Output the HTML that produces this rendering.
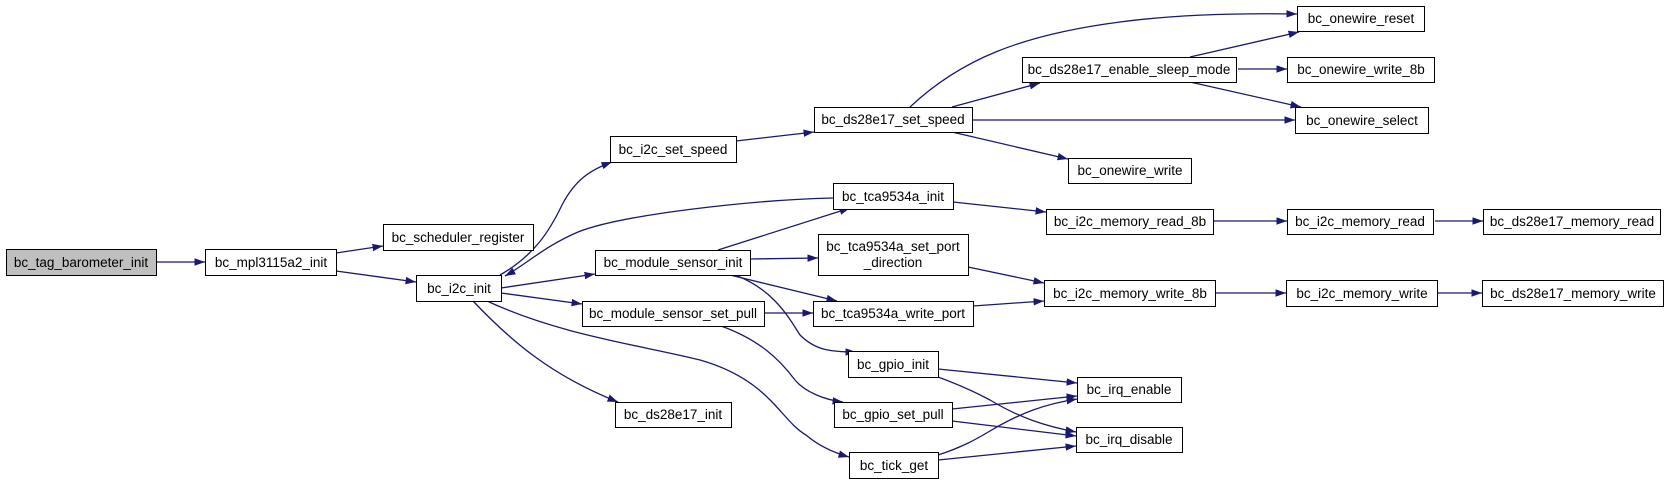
<!DOCTYPE html>
<html><head><meta charset="utf-8"><style>
html,body{margin:0;padding:0;background:#fff;width:1669px;height:484px;overflow:hidden}
svg text{font-family:"Liberation Sans",Arial,sans-serif;font-size:13.5px;fill:#000}
</style></head><body>
<svg width="1669" height="484" viewBox="0 0 1669 484" xmlns="http://www.w3.org/2000/svg">
<defs><marker id="a" markerUnits="userSpaceOnUse" markerWidth="11" markerHeight="8" refX="10.5" refY="3.75" orient="auto"><path d="M0,0 L10.5,3.75 L0,7.5 z" fill="#191970"/></marker></defs>
<g fill="none" stroke="#191970" stroke-width="1.3" marker-end="url(#a)">
<path d="M156,262 L205,262"/>
<path d="M336,253 L383,246"/>
<path d="M336,271 L416,282"/>
<path d="M500,275 C535,255 550,230 562,205 C575,180 590,170 612,162"/>
<path d="M833,198 C750,200 620,215 578,232 C545,246 525,265 505,276"/>
<path d="M501,288 L595,274"/>
<path d="M501,293 L582,304"/>
<path d="M487,301 C560,335 640,345 700,360 C770,380 780,420 806,435 C820,447 835,453 849,457"/>
<path d="M473,301 C510,340 550,375 618,402"/>
<path d="M736,141 L814,132"/>
<path d="M910,107 C960,60 1020,35 1120,22 C1180,14 1240,13 1297,14"/>
<path d="M952,107 L1040,83"/>
<path d="M972,120 L1295,120"/>
<path d="M952,132 L1068,159"/>
<path d="M1190,57 L1299,32"/>
<path d="M1238,69 L1287,69"/>
<path d="M1190,82 L1301,107"/>
<path d="M953,202 L1046,212"/>
<path d="M1213,221 L1287,221"/>
<path d="M1435,221 L1483,221"/>
<path d="M718,250 L850,208"/>
<path d="M750,259 L818,258"/>
<path d="M730,275 L837,301"/>
<path d="M735,275 C775,290 790,320 800,335 C815,350 830,352 856,352"/>
<path d="M968,267 L1044,283"/>
<path d="M764,313 L813,313"/>
<path d="M721,326 C760,340 780,360 795,380 C805,392 825,400 843,402"/>
<path d="M973,306 L1044,301"/>
<path d="M1215,293 L1286,293"/>
<path d="M1437,293 L1482,293"/>
<path d="M938,369 L1077,383"/>
<path d="M938,377 C960,385 975,392 990,400 C1020,418 1045,426 1076,432"/>
<path d="M952,409 L1077,396"/>
<path d="M952,421 L1076,436"/>
<path d="M938,455 C960,448 975,440 990,431 C1020,413 1045,404 1077,399"/>
<path d="M938,460 L1076,446"/>
</g>
<g stroke="#000" stroke-width="1" fill="#fff">
<rect x="6.5" y="249.5" width="150" height="26" fill="#bfbfbf"/>
<rect x="205.5" y="249.5" width="131" height="26"/>
<rect x="383.5" y="224.5" width="150" height="26"/>
<rect x="416.5" y="275.5" width="85" height="26"/>
<rect x="610.5" y="136.5" width="126" height="26"/>
<rect x="814.5" y="107.5" width="158" height="25"/>
<rect x="1022.5" y="57.5" width="214" height="25"/>
<rect x="1297.5" y="6.5" width="127" height="25"/>
<rect x="1287.5" y="57.5" width="147" height="25"/>
<rect x="1295.5" y="107.5" width="133" height="26"/>
<rect x="1068.5" y="158.5" width="123" height="25"/>
<rect x="833.5" y="183.5" width="120" height="26"/>
<rect x="1046.5" y="209.5" width="167" height="25"/>
<rect x="1287.5" y="209.5" width="146" height="25"/>
<rect x="1483.5" y="209.5" width="177" height="25"/>
<rect x="595.5" y="250.5" width="155" height="25"/>
<rect x="818.5" y="234.5" width="150" height="41"/>
<rect x="1044.5" y="280.5" width="171" height="26"/>
<rect x="1286.5" y="280.5" width="151" height="26"/>
<rect x="1482.5" y="280.5" width="181" height="26"/>
<rect x="582.5" y="301.5" width="182" height="25"/>
<rect x="813.5" y="301.5" width="160" height="25"/>
<rect x="848.5" y="351.5" width="90" height="26"/>
<rect x="615.5" y="402.5" width="116" height="25"/>
<rect x="834.5" y="402.5" width="118" height="25"/>
<rect x="849.5" y="452.5" width="89" height="26"/>
<rect x="1077.5" y="377.5" width="104" height="25"/>
<rect x="1076.5" y="427.5" width="106" height="25"/>
</g>
<g text-anchor="middle">
<text x="81" y="267">bc_tag_barometer_init</text>
<text x="271" y="267">bc_mpl3115a2_init</text>
<text x="458" y="242">bc_scheduler_register</text>
<text x="459" y="293">bc_i2c_init</text>
<text x="673" y="154">bc_i2c_set_speed</text>
<text x="893" y="124">bc_ds28e17_set_speed</text>
<text x="1129" y="74">bc_ds28e17_enable_sleep_mode</text>
<text x="1361" y="23">bc_onewire_reset</text>
<text x="1361" y="74">bc_onewire_write_8b</text>
<text x="1362" y="125">bc_onewire_select</text>
<text x="1130" y="175">bc_onewire_write</text>
<text x="893" y="201">bc_tca9534a_init</text>
<text x="1130" y="226">bc_i2c_memory_read_8b</text>
<text x="1360" y="226">bc_i2c_memory_read</text>
<text x="1572" y="226">bc_ds28e17_memory_read</text>
<text x="673" y="267">bc_module_sensor_init</text>
<text x="893" y="251">bc_tca9534a_set_port</text>
<text x="893" y="267">_direction</text>
<text x="1130" y="298">bc_i2c_memory_write_8b</text>
<text x="1362" y="298">bc_i2c_memory_write</text>
<text x="1573" y="298">bc_ds28e17_memory_write</text>
<text x="673" y="318">bc_module_sensor_set_pull</text>
<text x="893" y="318">bc_tca9534a_write_port</text>
<text x="893" y="369">bc_gpio_init</text>
<text x="673" y="419">bc_ds28e17_init</text>
<text x="893" y="419">bc_gpio_set_pull</text>
<text x="894" y="470">bc_tick_get</text>
<text x="1129" y="394">bc_irq_enable</text>
<text x="1129" y="444">bc_irq_disable</text>
</g>
</svg>
</body></html>
